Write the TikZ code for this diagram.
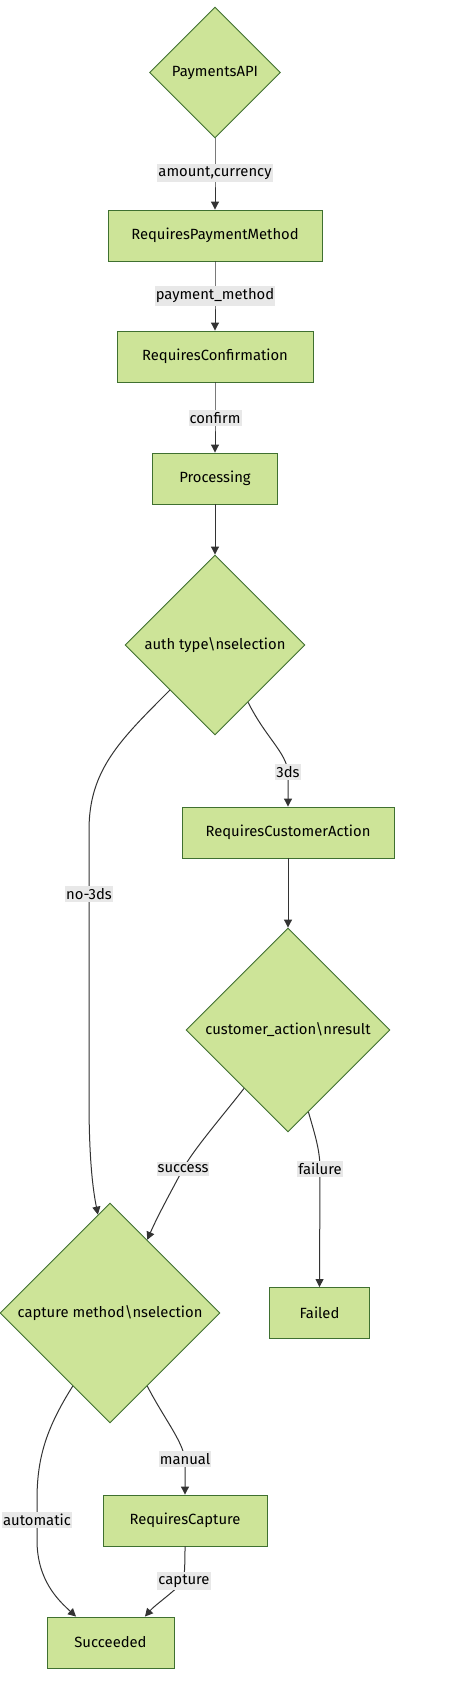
\documentclass[tikz,border=0pt]{standalone}
\usepackage{fontspec}
\setmainfont{Fira Sans}
\usetikzlibrary{shapes.geometric,arrows.meta}
\definecolor{nodefill}{HTML}{CDE498}
\definecolor{nodeborder}{HTML}{3F7030}
\definecolor{edgecol}{HTML}{333333}
\definecolor{lblbg}{HTML}{E8E8E8}
\begin{document}
\begin{tikzpicture}[x=1pt,y=-1pt,
  every node/.style={font=\fontsize{14.8}{17}\selectfont, text=black},
  state/.style={draw=nodeborder, fill=nodefill, line width=0.9pt, rectangle, minimum height=51pt, inner sep=0pt},
  choice/.style={draw=nodeborder, fill=nodefill, line width=0.9pt, diamond, inner sep=0pt},
  edge/.style={draw=edgecol, line width=1pt, -{Triangle[length=8pt,width=8pt]}},
  lbl/.style={fill=lblbg, inner xsep=1pt, inner ysep=2.5pt}]
\useasboundingbox (0,0) rectangle (468,1694);
% nodes
\node[choice, minimum width=131pt, minimum height=131pt] (api) at (215,72.5) {PaymentsAPI};
\node[state, minimum width=214pt] (rpm) at (215,235.5) {RequiresPaymentMethod};
\node[state, minimum width=196pt] (rc) at (215,356.5) {RequiresConfirmation};
\node[state, minimum width=125pt] (proc) at (215,478.5) {Processing};
\node[choice, minimum width=180pt, minimum height=180pt] (auth) at (215,645) {auth type\textbackslash nselection};
\node[state, minimum width=212pt] (rca) at (288,832.5) {RequiresCustomerAction};
\node[choice, minimum width=204pt, minimum height=204pt] (ca) at (288,1030) {customer\_action\textbackslash nresult};
\node[state, minimum width=100pt] (failed) at (319.5,1313) {Failed};
\node[choice, minimum width=220pt, minimum height=220pt] (cm) at (110,1313) {capture method\textbackslash nselection};
\node[state, minimum width=164pt] (rcap) at (185,1520.5) {RequiresCapture};
\node[state, minimum width=127pt] (succ) at (110.5,1642.5) {Succeeded};
% label positions
\coordinate (c1) at (215,173);
\coordinate (c2) at (215,296);
\coordinate (c3) at (215,418);
\coordinate (c3ds) at (288,772);
\coordinate (cno) at (89,894);
\coordinate (csucc) at (183,1169);
\coordinate (cfail) at (320,1169);
\coordinate (cman) at (185,1459);
\coordinate (cauto) at (37,1520);
\coordinate (ccap) at (184,1581);
% edges
\draw[edge] (api.south) -- (c1) -- (rpm.north);
\draw[edge] (rpm.south) -- (c2) -- (rc.north);
\draw[edge] (rc.south) -- (c3) -- (proc.north);
\draw[edge] (proc.south) -- (auth.north);
\draw[edge] (auth.-60) .. controls (266,738) and (286,752) .. (c3ds) -- (rca.north);
\draw[edge] (auth.south west) .. controls (120,740) and (89,770) .. (89,830) -- (cno) -- (89,1100) .. controls (89,1160) and (93,1190) .. (cm.97);
\draw[edge] (rca.south) -- (ca.north);
\draw[edge] (ca.-127) .. controls (225,1113) and (193,1150) .. (csucc) .. controls (173,1188) and (158,1215) .. (cm.63);
\draw[edge] (ca.-76) .. controls (315,1135) and (320,1150) .. (cfail) -- (failed.north);
\draw[edge] (cm.-63) .. controls (165,1420) and (182,1440) .. (cman) -- (rcap.north);
\draw[edge] (cm.-117) .. controls (45,1430) and (37,1460) .. (37,1500) -- (cauto) -- (37,1540) .. controls (37,1580) and (58,1600) .. (succ.143);
\draw[edge] (rcap.south) .. controls (185,1560) .. (ccap) .. controls (170,1595) and (155,1605) .. (succ.37);
% labels
\node[lbl] (t1) at (c1) {amount,currency};
\node[lbl] (t2) at (c2) {payment\_method};
\node[lbl] (t3) at (c3) {confirm};
\node[lbl] (t4) at (c3ds) {3ds};
\node[lbl] (t5) at (cno) {no-3ds};
\node[lbl] (t6) at (csucc) {success};
\node[lbl] (t7) at (cfail) {failure};
\node[lbl] (t8) at (cman) {manual};
\node[lbl] (t9) at (cauto) {automatic};
\node[lbl] (t10) at (ccap) {capture};
\end{tikzpicture}
\end{document}
